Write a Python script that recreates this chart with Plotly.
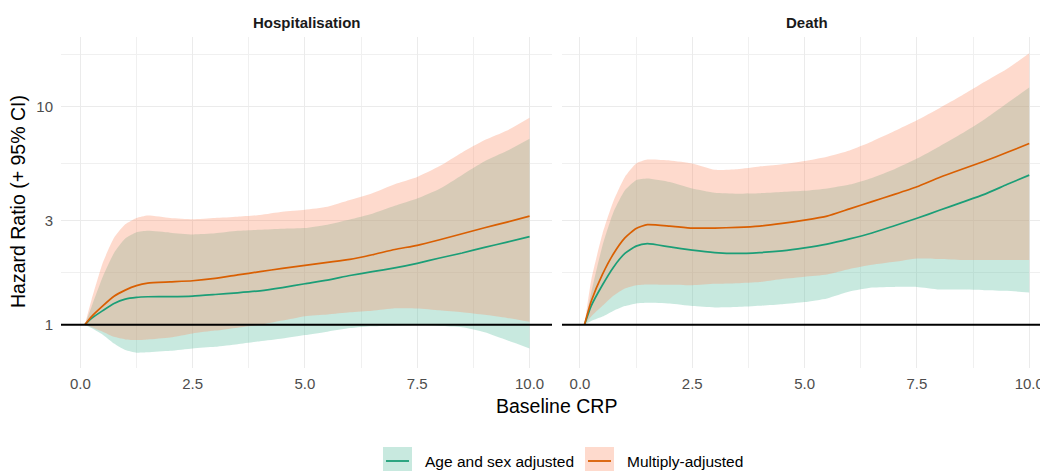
import plotly.graph_objects as go

# ---------------- data ----------------
crp = [0.1, 0.25, 0.5, 0.75, 1.0, 1.25, 1.5, 2.0, 2.5, 3.0, 3.5, 4.0,
       4.5, 5.0, 5.5, 6.0, 6.5, 7.0, 7.5, 8.0, 8.5, 9.0, 9.5, 10.0]

# Hospitalisation
hosp_age_hr = [1.0, 1.07, 1.16, 1.25, 1.31, 1.335, 1.343, 1.345, 1.352, 1.375, 1.40, 1.43,
               1.48, 1.54, 1.60, 1.68, 1.75, 1.82, 1.91, 2.02, 2.13, 2.26, 2.39, 2.53]
hosp_age_lo = [1.0, 0.965, 0.90, 0.82, 0.766, 0.745, 0.748, 0.76, 0.779, 0.793, 0.815, 0.84,
               0.865, 0.897, 0.93, 0.965, 0.984, 0.99, 0.996, 0.988, 0.975, 0.925, 0.85, 0.779]
hosp_age_hi = [1.0, 1.21, 1.66, 2.13, 2.48, 2.65, 2.69, 2.64, 2.59, 2.62, 2.69, 2.72,
               2.75, 2.77, 2.87, 3.03, 3.22, 3.50, 3.78, 4.19, 4.85, 5.6, 6.25, 7.1]
hosp_multi_hr = [1.0, 1.09, 1.22, 1.35, 1.44, 1.51, 1.55, 1.57, 1.59, 1.63, 1.69, 1.75,
                 1.81, 1.87, 1.93, 1.99, 2.09, 2.21, 2.31, 2.45, 2.61, 2.78, 2.95, 3.14]
hosp_multi_lo = [1.0, 0.975, 0.93, 0.88, 0.857, 0.851, 0.857, 0.875, 0.913, 0.94, 0.97, 1.0,
                 1.045, 1.095, 1.115, 1.14, 1.16, 1.19, 1.188, 1.165, 1.14, 1.11, 1.075, 1.032]
hosp_multi_hi = [1.0, 1.30, 1.92, 2.50, 2.88, 3.08, 3.16, 3.08, 3.04, 3.08, 3.12, 3.18,
                 3.29, 3.36, 3.47, 3.72, 4.0, 4.4, 4.75, 5.33, 6.15, 7.0, 7.75, 8.87]

# Death
death_age_hr = [1.0, 1.22, 1.52, 1.84, 2.12, 2.29, 2.35, 2.27, 2.195, 2.14, 2.12, 2.14,
                2.18, 2.25, 2.34, 2.47, 2.63, 2.84, 3.07, 3.34, 3.63, 3.95, 4.38, 4.84]
death_age_lo = [1.0, 1.04, 1.09, 1.16, 1.217, 1.252, 1.26, 1.25, 1.217, 1.20, 1.205, 1.22,
                1.24, 1.27, 1.32, 1.42, 1.48, 1.49, 1.49, 1.45, 1.45, 1.44, 1.43, 1.405]
death_age_hi = [1.0, 1.4, 2.3, 3.3, 4.13, 4.59, 4.67, 4.5, 4.2, 4.02, 3.98, 4.0,
                4.05, 4.1, 4.2, 4.38, 4.7, 5.15, 5.76, 6.55, 7.5, 8.7, 10.3, 12.17]
death_multi_hr = [1.0, 1.28, 1.70, 2.12, 2.50, 2.76, 2.87, 2.83, 2.77, 2.77, 2.79, 2.83,
                  2.91, 3.01, 3.14, 3.39, 3.66, 3.95, 4.28, 4.72, 5.15, 5.60, 6.14, 6.75]
death_multi_lo = [1.0, 1.09, 1.22, 1.36, 1.466, 1.518, 1.53, 1.525, 1.518, 1.54, 1.55, 1.57,
                  1.62, 1.66, 1.70, 1.80, 1.88, 1.94, 2.01, 2.0, 1.98, 1.98, 1.98, 1.98]
death_multi_hi = [1.0, 1.6, 2.6, 3.7, 4.75, 5.47, 5.70, 5.65, 5.47, 5.12, 5.15, 5.3,
                  5.43, 5.62, 5.88, 6.28, 6.9, 7.7, 8.63, 9.8, 11.2, 12.9, 14.8, 17.5]

panels = ["Hospitalisation", "Death"]
models = ["Age and sex adjusted", "Multiply-adjusted"]
x_tickvals = [0, 2.5, 5, 7.5, 10]
x_ticktext = ["0.0", "2.5", "5.0", "7.5", "10.0"]
y_tickvals = [1, 3, 10]
y_ticktext = ["1", "3", "10"]

# ---------------- styles ----------------
line_col = {"Age and sex adjusted": "#1b9e77", "Multiply-adjusted": "#d95f02"}
fill_col = {"Age and sex adjusted": "rgba(102,194,165,0.36)",
            "Multiply-adjusted": "rgba(252,141,98,0.32)"}
FONT = "Liberation Sans, Arial, sans-serif"

W, H = 1040, 471
ML, MR, MT, MB = 61, 0, 37, 103
PW = W - ML - MR
PH = H - MT - MB


def px_x(p):
    return (p - ML) / PW


def px_y(p):
    return (H - MB - p) / PH


data = {
    ("Hospitalisation", "Age and sex adjusted"): (hosp_age_lo, hosp_age_hr, hosp_age_hi),
    ("Hospitalisation", "Multiply-adjusted"): (hosp_multi_lo, hosp_multi_hr, hosp_multi_hi),
    ("Death", "Age and sex adjusted"): (death_age_lo, death_age_hr, death_age_hi),
    ("Death", "Multiply-adjusted"): (death_multi_lo, death_multi_hr, death_multi_hi),
}

fig = go.Figure()
axes = {"Hospitalisation": ("x", "y"), "Death": ("x2", "y2")}

for panel in panels:
    xa, ya = axes[panel]
    for m in models:
        lo, hr, hi = data[(panel, m)]
        fig.add_trace(go.Scatter(x=crp, y=lo, xaxis=xa, yaxis=ya, mode="lines",
                                 line=dict(width=0, color=line_col[m], shape="spline", smoothing=0.5),
                                 showlegend=False, hoverinfo="skip"))
        fig.add_trace(go.Scatter(x=crp, y=hi, xaxis=xa, yaxis=ya, mode="lines",
                                 line=dict(width=0, color=line_col[m], shape="spline", smoothing=0.5),
                                 fill="tonexty", fillcolor=fill_col[m],
                                 showlegend=False, hoverinfo="skip"))
    for m in models:
        lo, hr, hi = data[(panel, m)]
        fig.add_trace(go.Scatter(x=crp, y=hr, xaxis=xa, yaxis=ya, mode="lines", name=m,
                                 line=dict(width=1.7, color=line_col[m], shape="spline", smoothing=0.5),
                                 showlegend=False))

# reference line at HR = 1
for xa, ya in [("x", "y"), ("x2", "y2")]:
    fig.add_shape(type="line", xref=f"{xa} domain", yref=ya, x0=0, x1=1, y0=1, y1=1,
                  line=dict(color="black", width=2), layer="above")

grid = "#ebebeb"
common_x = dict(tickvals=x_tickvals, ticktext=x_ticktext, showgrid=True, gridcolor=grid,
                gridwidth=1.1, zeroline=False, showline=False, ticks="", automargin=False,
                ticklabeloverflow="allow", ticklabelstandoff=5,
                tickfont=dict(family=FONT, size=15, color="#4d4d4d"),
                minor=dict(tickmode="array", tickvals=[1.25, 3.75, 6.25, 8.75],
                           showgrid=True, gridcolor="#f0f0f0", gridwidth=0.8))
common_y = dict(type="log", range=[-0.198, 1.317], tickvals=y_tickvals, ticktext=y_ticktext,
                showgrid=True, gridcolor=grid, gridwidth=1.1, zeroline=False, showline=False,
                ticks="", automargin=False, tickfont=dict(family=FONT, size=15, color="#4d4d4d"),
                minor=dict(tickmode="array", tickvals=[1.732, 5.477, 17.32],
                           showgrid=True, gridcolor="#f0f0f0", gridwidth=0.8))

fig.update_layout(
    width=W, height=H,
    margin=dict(l=ML, r=MR, t=MT, b=MB, autoexpand=False),
    paper_bgcolor="white", plot_bgcolor="white",
    showlegend=False,
    xaxis=dict(domain=[0, px_x(552)], range=[-0.43, 10.50], anchor="y", **common_x),
    xaxis2=dict(domain=[px_x(562), 1], range=[-0.40, 10.24], anchor="y2", **common_x),
    yaxis=dict(domain=[0, 1], anchor="x", ticklabelstandoff=7, **common_y),
    yaxis2=dict(domain=[0, 1], anchor="x2", showticklabels=False, **common_y),
    font=dict(family=FONT),
)

ann = []
# strip titles
ann.append(dict(text="<b>Hospitalisation</b>", x=px_x(306.5), y=px_y(22), xref="paper", yref="paper",
                xanchor="center", yanchor="middle",
                showarrow=False, font=dict(family=FONT, size=15, color="#1a1a1a")))
ann.append(dict(text="<b>Death</b>", x=px_x(807), y=px_y(22), xref="paper", yref="paper",
                xanchor="center", yanchor="middle",
                showarrow=False, font=dict(family=FONT, size=15, color="#1a1a1a")))
# axis titles
ann.append(dict(text="Baseline CRP", x=px_x(556.5), y=px_y(406), xref="paper", yref="paper",
                xanchor="center", yanchor="middle",
                showarrow=False, font=dict(family=FONT, size=19.5, color="black")))
ann.append(dict(text="Hazard Ratio (+ 95% CI)", x=px_x(18), y=px_y(202), xref="paper", yref="paper",
                xanchor="center", yanchor="middle",
                textangle=-90, showarrow=False, font=dict(family=FONT, size=19.5, color="black")))

# manual legend (key box + line + label)
legend_items = [(models[0], 383, 423), (models[1], 585, 625)]
for m, kx, tx in legend_items:
    fig.add_shape(type="rect", xref="paper", yref="paper",
                  x0=px_x(kx), x1=px_x(kx + 29), y0=px_y(447), y1=px_y(476),
                  fillcolor=fill_col[m], line=dict(width=0), layer="above")
    fig.add_shape(type="line", xref="paper", yref="paper",
                  x0=px_x(kx + 3), x1=px_x(kx + 26), y0=px_y(461), y1=px_y(461),
                  line=dict(color=line_col[m], width=1.8), layer="above")
    ann.append(dict(text=m, x=px_x(tx), y=px_y(461), xref="paper", yref="paper", xanchor="left",
                    yanchor="middle", showarrow=False, font=dict(family=FONT, size=15.5, color="black")))

fig.update_layout(annotations=ann)
fig.write_html("out.html", config={"displayModeBar": False},
               post_script="document.body.style.margin='0';document.body.style.overflow='hidden';")
